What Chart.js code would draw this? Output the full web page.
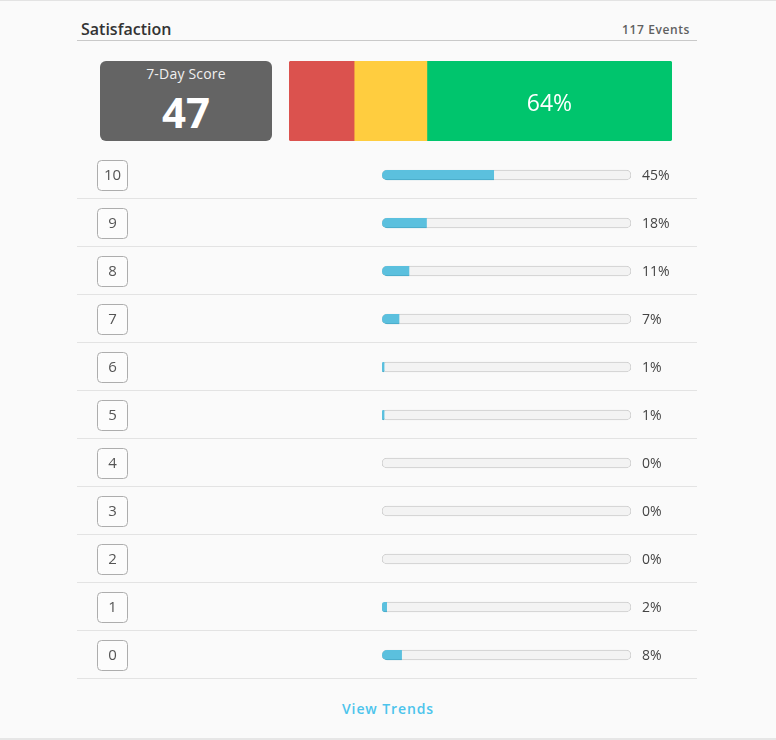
<!DOCTYPE html>
<html>
<head>
<meta charset="utf-8">
<title>Satisfaction</title>
<script src="https://cdn.jsdelivr.net/npm/chart.js@4.4.1/dist/chart.umd.min.js"></script>
<style>
  html, body { margin: 0; padding: 0; }
  body {
    width: 776px; height: 740px; position: relative; overflow: hidden;
    background: #fafafa; font-family: "Open Sans", sans-serif;
  }
  .frame {
    position: absolute; left: 0; top: 0; width: 776px; height: 740px;
    box-sizing: border-box; border-top: 1px solid #e3e3e3; border-bottom: 2px solid #e6e6e6;
  }
  .title {
    position: absolute; left: 81px; top: 18px;
    font-size: 16px; line-height: 22px; font-weight: 600; color: #333;
  }
  .events {
    position: absolute; right: 86px; top: 19px; letter-spacing: 0.6px;
    font-size: 12px; line-height: 22px; font-weight: 600; color: #606060;
  }
  .rule { position: absolute; left: 77px; top: 40px; width: 620px; height: 1px; background: #c9c9c9; }
  .score {
    position: absolute; left: 100px; top: 61px; width: 172px; height: 80px;
    background: #646464; border-radius: 6px; color: #fff; text-align: center;
  }
  .score .cap { position: absolute; left: 0; right: 0; top: 3px; font-size: 14px; line-height: 20px; color: #f0f0f0; letter-spacing: 0.2px; }
  .score .num { position: absolute; left: 0; right: 0; top: 26px; font-size: 42px; line-height: 50px; font-weight: 700; }
  #mix { position: absolute; left: 289px; top: 61px; }
  #rows { position: absolute; left: 77px; top: 151px; }
  .trends {
    position: absolute; left: 0; width: 776px; top: 699px; text-align: center; letter-spacing: 0.9px;
    font-size: 14px; line-height: 20px; font-weight: 600; color: #4cc4ec;
  }
</style>
</head>
<body>
<div class="frame"></div>
<div class="title">Satisfaction</div>
<div class="events" id="events"></div>
<div class="rule"></div>
<div class="score"><div class="cap">7-Day Score</div><div class="num" id="score"></div></div>
<canvas id="mix" width="383" height="80"></canvas>
<canvas id="rows" width="620" height="530"></canvas>
<div class="trends">View Trends</div>

<script>
const eventCount = 117;
const groupLabels = ['Detractors', 'Passives', 'Promoters'];
const groupShares = [17, 19, 64];
const groupColors = ['#db524e', '#ffcd3f', '#00c56d'];

const scoreLabels = ['10', '9', '8', '7', '6', '5', '4', '3', '2', '1', '0'];
const scoreShares = [45, 18, 11, 7, 1, 1, 0, 0, 0, 2, 8];

document.getElementById('events').textContent = eventCount + ' Events';
document.getElementById('score').textContent = groupShares[2] - groupShares[0];

const font = '"Open Sans", sans-serif';

// label on the promoters segment
const mixLabel = {
  id: 'mixLabel',
  afterDatasetsDraw(chart) {
    const bar = chart.getDatasetMeta(2).data[0];
    const ctx = chart.ctx;
    ctx.save();
    ctx.fillStyle = '#fff';
    ctx.font = '23px ' + font;
    ctx.textAlign = 'center';
    ctx.textBaseline = 'middle';
    ctx.fillText(groupShares[2] + '%', (bar.x + bar.base) / 2, bar.y + 3);
    ctx.restore();
  }
};

new Chart(document.getElementById('mix'), {
  type: 'bar',
  data: {
    labels: ['NPS'],
    datasets: groupLabels.map((name, i) => ({
      label: name,
      data: [groupShares[i]],
      backgroundColor: groupColors[i],
      borderSkipped: false,
      borderRadius: i === 0 ? { topLeft: 3, bottomLeft: 3, topRight: 0, bottomRight: 0 }
        : i === 2 ? { topLeft: 0, bottomLeft: 0, topRight: 3, bottomRight: 3 } : 0,
      barPercentage: 1,
      categoryPercentage: 1
    }))
  },
  options: {
    indexAxis: 'y',
    responsive: false,
    animation: false,
    events: [],
    layout: { padding: 0 },
    scales: {
      x: { stacked: true, min: 0, max: 100, display: false },
      y: { stacked: true, display: false }
    },
    plugins: { legend: { display: false }, tooltip: { enabled: false } }
  },
  plugins: [mixLabel]
});

function roundRect(ctx, x, y, w, h, r) {
  ctx.beginPath();
  ctx.moveTo(x + r, y);
  ctx.arcTo(x + w, y, x + w, y + h, r);
  ctx.arcTo(x + w, y + h, x, y + h, r);
  ctx.arcTo(x, y + h, x, y, r);
  ctx.arcTo(x, y, x + w, y, r);
  ctx.closePath();
}

// score boxes, separators and percentages around each row
const rowDecor = {
  id: 'rowDecor',
  afterDatasetsDraw(chart) {
    const { ctx, chartArea, scales: { y } } = chart;
    ctx.save();
    scoreLabels.forEach((lab, i) => {
      const cy = y.getPixelForValue(i);
      const sep = Math.round(cy + 23) + 0.5;
      ctx.strokeStyle = '#e3e3e3';
      ctx.lineWidth = 1;
      ctx.beginPath();
      ctx.moveTo(0, sep);
      ctx.lineTo(chart.width, sep);
      ctx.stroke();

      roundRect(ctx, 20.5, Math.round(cy - 15) + 0.5, 30, 30, 4);
      ctx.fillStyle = '#fcfcfc';
      ctx.fill();
      ctx.strokeStyle = '#adadad';
      ctx.stroke();

      ctx.fillStyle = '#555';
      ctx.font = '15px ' + font;
      ctx.textAlign = 'center';
      ctx.textBaseline = 'middle';
      ctx.fillText(lab, 35.5, cy + 1);

      ctx.fillStyle = '#444';
      ctx.font = '14px ' + font;
      ctx.textAlign = 'left';
      ctx.fillText(scoreShares[i] + '%', chartArea.right + 11, cy + 1);
    });
    ctx.restore();
  }
};

new Chart(document.getElementById('rows'), {
  type: 'bar',
  data: {
    labels: scoreLabels,
    datasets: [
      {
        label: 'Share',
        data: scoreShares,
        backgroundColor: (c) => c.raw > 0 ? '#5bc0de' : 'rgba(0,0,0,0)',
        borderColor: (c) => c.raw > 0 ? '#47a9c6' : 'rgba(0,0,0,0)',
        borderWidth: { top: 0, left: 0, right: 0, bottom: 1 },
        borderSkipped: false,
        borderRadius: { topLeft: 5, bottomLeft: 5, topRight: 0, bottomRight: 0 },
        barThickness: 10,
        grouped: false
      },
      {
        label: 'Track',
        data: scoreLabels.map(() => 100),
        backgroundColor: '#f3f3f3',
        borderColor: '#cdcdcd',
        borderWidth: 1,
        borderSkipped: false,
        borderRadius: 5,
        barThickness: 10,
        grouped: false
      }
    ]
  },
  options: {
    indexAxis: 'y',
    responsive: false,
    animation: false,
    events: [],
    layout: { padding: { left: 305, right: 66, top: 0, bottom: 2 } },
    scales: {
      x: { min: 0, max: 100, display: false },
      y: { display: false }
    },
    plugins: { legend: { display: false }, tooltip: { enabled: false } }
  },
  plugins: [rowDecor]
});
</script>
</body>
</html>
